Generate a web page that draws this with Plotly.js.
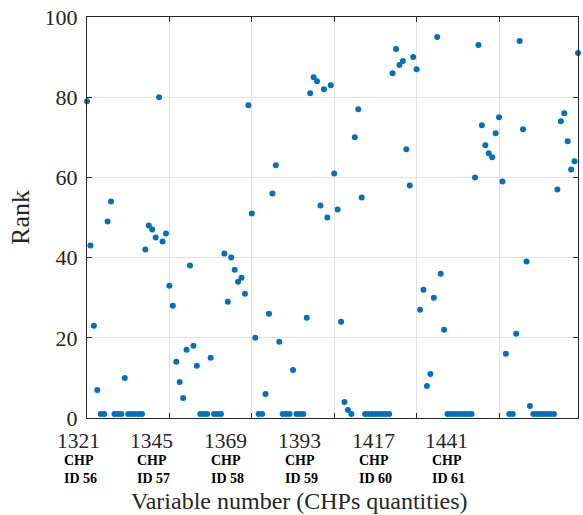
<!DOCTYPE html>
<html>
<head>
<meta charset="utf-8">
<script src="https://cdn.plot.ly/plotly-3.0.1.min.js"></script>
<style>html,body{margin:0;padding:0;background:#fff;}#chart{width:583px;height:515px;}</style>
</head>
<body>
<div id="chart"></div>
<script>
// ---- data ----
var firstVariable = 1321;
var ranks = [
  79, 43, 23, 7, 1, 1, 49, 54, 1, 1, 1, 10, 1, 1, 1, 1, 1,
  42, 48, 47, 45, 80, 44, 46, 33, 28, 14, 9, 5, 17, 38, 18, 13,
  1, 1, 1, 15, 1, 1, 1,
  41, 29, 40, 37, 34, 35, 31, 78, 51, 20, 1, 1, 6, 26, 56, 63, 19,
  1, 1, 1, 12, 1, 1, 1,
  25, 81, 85, 84, 53, 82, 50, 83, 61, 52, 24, 4, 2, 1, 70, 77, 55,
  1, 1, 1, 1, 1, 1, 1, 1,
  86, 92, 88, 89, 67, 58, 90, 87, 27, 32, 8, 11, 30, 95, 36, 22,
  1, 1, 1, 1, 1, 1, 1, 1,
  60, 93, 73, 68, 66, 65, 71, 75, 59, 16, 1, 1, 21, 94, 72, 39, 3,
  1, 1, 1, 1, 1, 1, 1,
  57, 74, 76, 69, 62, 64, 91
];
var xTickVals = [1321, 1345, 1369, 1393, 1417, 1441];
var xTickText = ['1321', '1345', '1369', '1393', '1417', '1441'];
var chpNames = ['ID 56', 'ID 57', 'ID 58', 'ID 59', 'ID 60', 'ID 61'];
var yTickVals = [0, 20, 40, 60, 80, 100];

// ---- layout helpers (positions of the group labels, in axis units) ----
var xMin = 1321, xMax = 1464;
var labelX = [1318.4, 1339.8, 1361.3, 1382.8, 1404.3, 1425.7];

var variables = ranks.map(function (_, i) { return firstVariable + i; });
function toPaper(v) { return (v - xMin) / (xMax - xMin); }

var FONT = 'Liberation Serif, Times New Roman, serif';
var AX = '#262626';

var trace = {
  x: variables,
  y: ranks,
  type: 'scatter',
  mode: 'markers',
  marker: {color: '#0072BD', size: 6},
  cliponaxis: false,
  hoverinfo: 'x+y'
};

var annotations = [];
for (var k = 0; k < xTickText.length; k++) {
  annotations.push({
    x: toPaper(labelX[k]), xref: 'paper', y: 0, yref: 'paper',
    text: xTickText[k], showarrow: false,
    xanchor: 'center', yanchor: 'middle', yshift: -23,
    font: {family: FONT, size: 21.5, color: AX}
  });
  annotations.push({
    x: toPaper(labelX[k]), xref: 'paper', y: 0, yref: 'paper',
    text: '<b>CHP</b>', showarrow: false,
    xanchor: 'left', yanchor: 'middle', xshift: -16.5, yshift: -42,
    font: {family: FONT, size: 14, color: '#000'}
  });
  annotations.push({
    x: toPaper(labelX[k]), xref: 'paper', y: 0, yref: 'paper',
    text: '<b>' + chpNames[k] + '</b>', showarrow: false,
    xanchor: 'left', yanchor: 'middle', xshift: -16.5, yshift: -60,
    font: {family: FONT, size: 14, color: '#000'}
  });
}
annotations.push({
  x: 0.433, xref: 'paper', y: 0, yref: 'paper',
  text: 'Variable number (CHPs quantities)', showarrow: false,
  xanchor: 'center', yanchor: 'middle', yshift: -83,
  font: {family: FONT, size: 24, color: AX}
});

var layout = {
  width: 583, height: 515,
  margin: {l: 87, r: 5, t: 17, b: 97},
  paper_bgcolor: '#fff', plot_bgcolor: '#fff',
  showlegend: false,
  font: {family: FONT, color: AX},
  xaxis: {
    range: [xMin, xMax],
    tickvals: xTickVals,
    showticklabels: false,
    ticks: 'inside', ticklen: 5, tickwidth: 1, tickcolor: AX,
    showline: true, linecolor: AX, linewidth: 1, mirror: 'ticks',
    showgrid: true, gridcolor: '#e3e3e3', gridwidth: 1,
    zeroline: false
  },
  yaxis: {
    range: [0, 100],
    tickvals: yTickVals,
    ticks: 'inside', ticklen: 5, tickwidth: 1, tickcolor: AX,
    ticklabelstandoff: 4,
    showline: true, linecolor: AX, linewidth: 1, mirror: 'ticks',
    showgrid: true, gridcolor: '#e3e3e3', gridwidth: 1,
    zeroline: false,
    tickfont: {family: FONT, size: 22, color: AX},
    title: {text: 'Rank', font: {family: FONT, size: 26, color: AX}, standoff: 7}
  },
  annotations: annotations
};

Plotly.newPlot('chart', [trace], layout, {displayModeBar: false, staticPlot: true});
</script>
</body>
</html>
